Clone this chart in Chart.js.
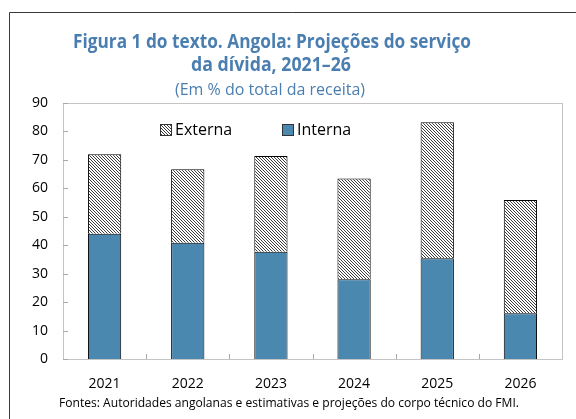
<!DOCTYPE html>
<html><head><meta charset="utf-8">
<script src="https://cdn.jsdelivr.net/npm/chart.js@4.4.1/dist/chart.umd.min.js"></script>
<style>html,body{margin:0;padding:0;background:#fff;overflow:hidden}#wrap{width:576px;height:419px;position:relative}</style>
</head><body><div id="wrap"><canvas id="c" width="576" height="419"></canvas></div>
<script>
// ---- data ----
const categories = ['2021', '2022', '2023', '2024', '2025', '2026'];
const interna = [44.0, 40.9, 37.7, 28.0, 35.4, 16.1];
const externa = [28.0, 25.8, 33.7, 35.5, 47.8, 39.8];
const seriesLabels = ['Interna', 'Externa'];
const yTickValues = [0, 10, 20, 30, 40, 50, 60, 70, 80, 90];
const titleLines = ['Figura 1 do texto. Angola: Projeções do serviço', 'da dívida, 2021–26'];
const subtitleText = '(Em % do total da receita)';
const sourceText = 'Fontes: Autoridades angolanas e estimativas e projeções do corpo técnico do FMI.';

// ---- styles ----
const FONT = '"Open Sans", "Noto Sans", sans-serif';
const BLUE = '#4b88b0';
const TITLE_BLUE = '#4a7eb0';

function makeHatch() {
  const c = document.createElement('canvas');
  c.width = 3; c.height = 3;
  const x = c.getContext('2d');
  x.fillStyle = '#ffffff'; x.fillRect(0, 0, 3, 3);
  x.fillStyle = '#3c3c3c';
  for (let i = 0; i < 3; i++) x.fillRect(i, i, 1, 1);
  return x.createPattern(c, 'repeat');
}
const hatch = makeHatch();

const decor = {
  id: 'decor',
  beforeDatasetsDraw(chart) {
    const ctx = chart.ctx, a = chart.chartArea;
    ctx.save();
    ctx.strokeStyle = '#c4c4c4';
    ctx.lineWidth = 1;
    ctx.strokeRect(Math.round(a.left) + 0.5, Math.round(a.top) + 0.5, Math.round(a.right - a.left), Math.round(a.bottom - a.top));
    const ys = chart.scales.y, xs = chart.scales.x;
    ctx.strokeStyle = '#a8a8a8';
    ctx.beginPath();
    yTickValues.forEach(v => {
      const y = Math.round(ys.getPixelForValue(v)) + 0.5;
      ctx.moveTo(a.left, y); ctx.lineTo(a.left + 5, y);
    });
    for (let i = 1; i < categories.length; i++) {
      const x = Math.round((xs.getPixelForValue(i - 1) + xs.getPixelForValue(i)) / 2) + 0.5;
      ctx.moveTo(x, a.bottom); ctx.lineTo(x, a.bottom - 5);
    }
    ctx.stroke();
    ctx.restore();
  },
  afterDraw(chart) {
    const ctx = chart.ctx;
    ctx.save();
    ctx.strokeStyle = '#3a3a3a';
    ctx.lineWidth = 1;
    ctx.beginPath();
    ctx.moveTo(9.5, 419); ctx.lineTo(9.5, 12.5); ctx.lineTo(576, 12.5);
    ctx.stroke();
    ctx.fillStyle = TITLE_BLUE;
    ctx.textAlign = 'center';
    ctx.textBaseline = 'alphabetic';
    ctx.font = 'bold 19px ' + FONT;
    ctx.fillText(titleLines[0], 272, 48, 398);
    ctx.fillText(titleLines[1], 271, 71, 160);
    ctx.font = '16px ' + FONT;
    ctx.fillText(subtitleText, 270, 95, 192);
    ctx.fillStyle = '#000';
    ctx.font = '12.5px ' + FONT;
    ctx.fillText(sourceText, 289, 407, 460);
    const ds = chart.data.datasets;
    const items = [{ ds: ds[1], x: 160 }, { ds: ds[0], x: 282 }];
    ctx.textAlign = 'left';
    ctx.textBaseline = 'middle';
    ctx.font = '16px ' + FONT;
    items.forEach(it => {
      ctx.fillStyle = it.ds.backgroundColor;
      ctx.fillRect(it.x, 124, 12, 12);
      ctx.strokeStyle = '#333';
      ctx.strokeRect(it.x + 0.5, 124.5, 11, 11);
      ctx.fillStyle = '#000';
      ctx.fillText(it.ds.label, it.x + 15, 130);
    });
    ctx.restore();
  }
};

new Chart(document.getElementById('c'), {
  type: 'bar',
  data: {
    labels: categories,
    datasets: [
      { label: seriesLabels[0], data: interna, backgroundColor: BLUE, borderColor: '#000', borderWidth: 1 },
      { label: seriesLabels[1], data: externa, backgroundColor: hatch, borderColor: '#000', borderWidth: 1 }
    ]
  },
  options: {
    responsive: false,
    animation: false,
    events: [],
    layout: { padding: { top: 103, right: 14, left: 0, bottom: 0 } },
    datasets: { bar: { categoryPercentage: 1.0, barPercentage: 0.4 } },
    plugins: { legend: { display: false }, title: { display: false }, tooltip: { enabled: false } },
    scales: {
      x: {
        stacked: true,
        grid: { display: false, drawTicks: false },
        border: { display: false },
        ticks: { color: '#000', font: { family: FONT, size: 14 }, padding: 17, maxRotation: 0 },
        afterFit(s) { s.height = 60; }
      },
      y: {
        stacked: true,
        min: 0, max: 90,
        afterBuildTicks(s) { s.ticks = yTickValues.map(v => ({ value: v })); },
        grid: { display: false, drawTicks: false },
        border: { display: false },
        ticks: { color: '#000', font: { family: FONT, size: 14 }, padding: 15 },
        afterFit(s) { s.width = 63; }
      }
    }
  },
  plugins: [decor]
});
</script>
</body></html>
